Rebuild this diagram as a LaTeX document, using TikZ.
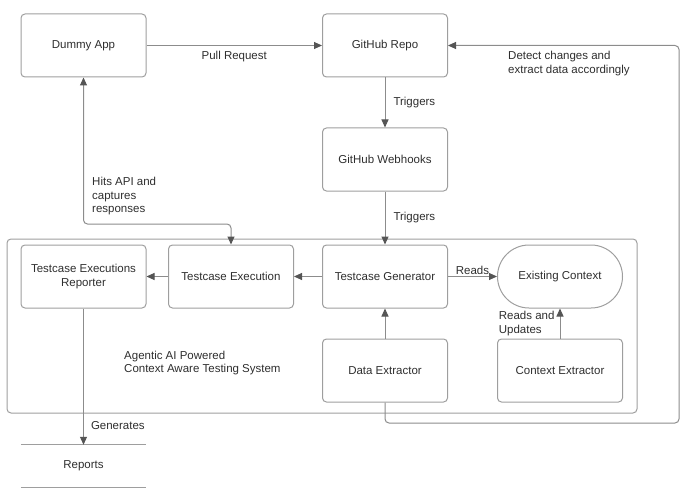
\documentclass[tikz,border=0pt]{standalone}
\usepackage{fontspec}
\setmainfont{Liberation Sans}
\usepackage{tikz}
\usetikzlibrary{arrows.meta}
\usepackage{xcolor}
\definecolor{boxline}{HTML}{9E9E9E}
\definecolor{wireline}{HTML}{8C8C8C}
\definecolor{tipgray}{HTML}{555555}
\definecolor{txtgray}{HTML}{2E2E2E}

\begin{document}
\begin{tikzpicture}[x=1pt,y=-1pt,
        box/.style={draw=boxline,line width=1pt,rounded corners=4pt,minimum width=125pt,minimum height=63pt,
          align=center,text=txtgray,font=\fontsize{11.5}{13.5}\selectfont},
        lbl/.style={text=txtgray,font=\fontsize{11.5}{13.5}\selectfont,inner sep=1pt,align=left},
        arr/.style={draw=wireline,line width=1pt,-{Triangle[length=8pt,width=7pt,color=tipgray]}},
        biarr/.style={draw=wireline,line width=1pt,{Triangle[length=8pt,width=7pt,color=tipgray]}-{Triangle[length=8pt,width=7pt,color=tipgray]}}]
        \useasboundingbox (0,0) rectangle (688,492);
        % the system frame
        \node[draw=boxline,line width=1pt,rounded corners=4pt,minimum width=630pt,minimum height=174pt] (system) at (322,326) {};
        \node[lbl,anchor=west] (systemlbl) at (123,363) {Agentic AI Powered\\Context Aware Testing System};
        % top row
        \node[box] (dummy) at (83.5,45.5) {Dummy App};
        \node[box] (repo) at (385,45.5) {GitHub Repo};
        \node[box] (hooks) at (385,159.5) {GitHub Webhooks};
        % inside the system
        \node[box] (reporter) at (83.5,276.5) {Testcase Executions\\Reporter};
        \node[box] (exec) at (231,276.5) {Testcase Execution};
        \node[box] (gen) at (385,276.5) {Testcase Generator};
        \node[box,rounded corners=31.5pt] (ctx) at (560,276.5) {Existing Context};
        \node[box] (dataex) at (385,370.5) {Data Extractor};
        \node[box] (ctxex) at (560,370.5) {Context Extractor};
        % reports store
        \node[lbl,minimum width=125pt,minimum height=42pt,align=center] (reports) at (83.5,466) {Reports};
        \draw[draw=boxline,line width=1pt] (reports.north west) -- (reports.north east);
        \draw[draw=boxline,line width=1pt] (reports.south west) -- (reports.south east);
        \coordinate (hitsbend) at (83.5,224);
        \coordinate (loopbend) at (679,423);
        % connectors
        \draw[arr] (dummy.east) -- node[lbl,below=4pt] {Pull Request} (repo.west);
        \draw[arr] (repo.south) -- node[lbl,right=7pt] {Triggers} (hooks.north);
        \draw[arr] (hooks.south) -- node[lbl,right=7pt] {Triggers} (gen.north);
        \draw[arr] (gen.east) -- node[lbl,above=0pt] {Reads} (ctx.west);
        \draw[arr] (ctxex.north) -- node[lbl,left=4pt] {Reads and\\Updates} (ctx.south);
        \draw[arr] (dataex.north) -- (gen.south);
        \draw[arr] (gen.west) -- (exec.east);
        \draw[arr] (exec.west) -- (reporter.east);
        \draw[arr] (reporter.south) -- node[lbl,pos=0.86,right=6pt] {Generates} (reports.north);
        \draw[biarr,rounded corners=4pt] (dummy.south) -- (hitsbend) -| (exec.north);
        \node[lbl,anchor=west] (hitslbl) at (91,196.5) {Hits API and\\captures\\responses};
        \draw[arr,rounded corners=4pt] (dataex.south) |- (loopbend) |- (repo.east);
        \node[lbl,anchor=west] (detectlbl) at (507,63.5) {Detect changes and\\extract data accordingly};
      \end{tikzpicture}
\end{document}
